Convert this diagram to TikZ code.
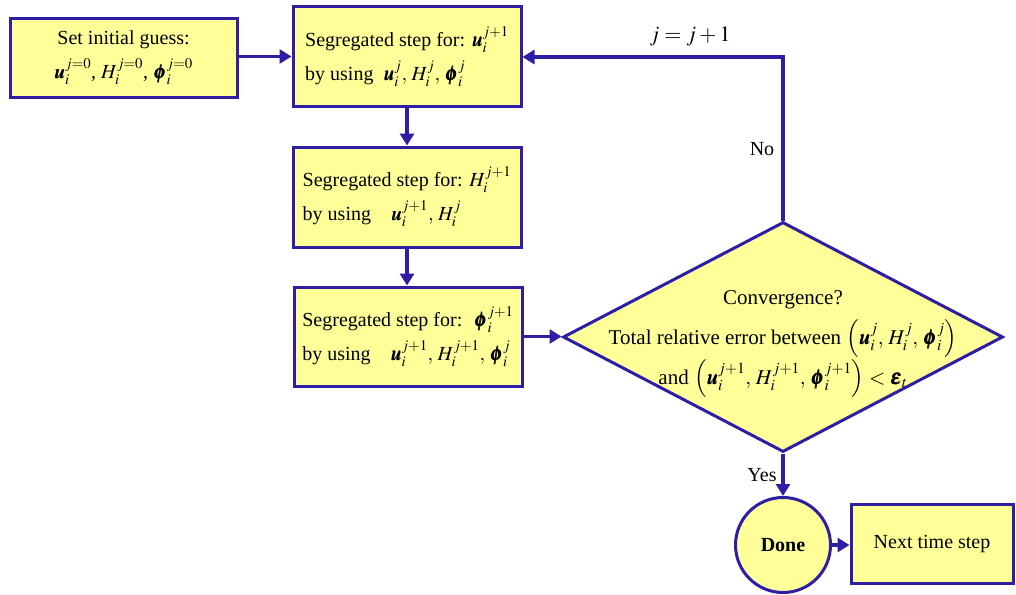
\documentclass[tikz,border=0pt]{standalone}
\usepackage{amsmath}
\usepackage{mathptmx}
\usepackage{bm}
\usepackage{fontspec}
\setmainfont{Liberation Serif}
\usetikzlibrary{arrows.meta,shapes.geometric}
\definecolor{bfill}{RGB}{255,255,153}
\definecolor{bline}{RGB}{45,30,165}
\tikzset{
  box/.style={draw=bline, fill=bfill, line width=3pt, inner sep=0pt,
    font=\fontsize{20}{34}\selectfont},
  arr/.style={draw=bline, line width=3.5pt,
    -{Triangle[length=12pt,width=14pt]}},
  lab/.style={font=\fontsize{20}{24}\selectfont, inner sep=0pt}
}
\begin{document}
\begin{tikzpicture}[x=1pt,y=-1pt]
\useasboundingbox (0,0) rectangle (1016,594);
\node[box, minimum width=227pt, minimum height=78pt, align=center] (init) at (123.5,58)
  {Set initial guess:\\ $\bm{u}_i^{j=0}$, $H_i^{j=0}$, $\bm{\phi}_i^{j=0}$};
\node[box, minimum width=228pt, minimum height=99pt, align=left] (seg1) at (407,56.5)
  {Segregated step for: $\bm{u}_i^{j+1}$\\ by using\ \ $\bm{u}_i^j,\, H_i^j,\, \bm{\phi}_i^j$};
\node[box, minimum width=228pt, minimum height=100pt, align=left] (seg2) at (407,197)
  {Segregated step for: $H_i^{j+1}$\\ by using\quad $\bm{u}_i^{j+1},\, H_i^j$\hspace{50pt}};
\node[box, minimum width=228pt, minimum height=99pt, align=left] (seg3) at (408,336.5)
  {Segregated step for: \ $\bm{\phi}_i^{j+1}$\\ by using\quad $\bm{u}_i^{j+1},\, H_i^{j+1},\, \bm{\phi}_i^j$};
\node[diamond, draw=bline, fill=bfill, line width=3pt, inner sep=0pt,
  minimum width=440pt, minimum height=230pt] (conv) at (783,337) {};
\node[align=center, inner sep=0pt, font=\fontsize{21}{40}\selectfont] (convtext) at (783,344)
  {Convergence?\\ Total relative error between $\left(\bm{u}_i^j,\, H_i^j,\, \bm{\phi}_i^j\right)$\\
   and $\left(\bm{u}_i^{j+1},\, H_i^{j+1},\, \bm{\phi}_i^{j+1}\right) < \bm{\varepsilon}_t$};
\node[circle, draw=bline, fill=bfill, line width=3pt, minimum size=95pt, inner sep=0pt,
  font=\fontsize{20}{24}\selectfont\bfseries] (done) at (783,545) {Done};
\node[box, minimum width=162pt, minimum height=79pt] (next) at (932,544)
  {Next time step};
\coordinate (corner) at (783,57);
\draw[arr] (init.east |- seg1.west) -- (seg1.west);
\draw[arr] (seg1.south) -- (seg2.north);
\draw[arr] (seg2.south) -- (seg2.south |- seg3.north);
\draw[arr] (seg3.east) -- (seg3.east -| conv.west);
\draw[arr] (conv.north) -- (corner) -- (corner -| seg1.east);
\draw[arr] (conv.south) -- (done.north);
\draw[arr] (done.east) -- (done.east -| next.west);
\node[lab, font=\fontsize{22}{26}\selectfont] (jlab) at (690,36) {$j = j + 1$};
\node[lab] (nolab) at (762,149) {No};
\node[lab] (yeslab) at (762,475) {Yes};
\end{tikzpicture}
\end{document}
